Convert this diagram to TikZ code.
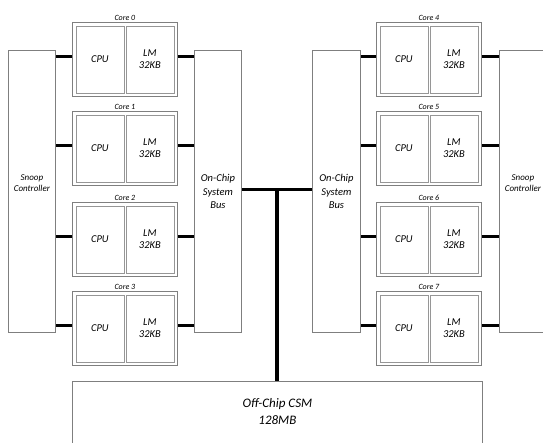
\documentclass[tikz,border=0pt]{standalone}
\usepackage{fontspec}
\setmainfont{Carlito}
\usepackage{xcolor}
\usepackage{tikz}
\usetikzlibrary{positioning, calc}

\definecolor{edgegray}{HTML}{7F7F7F}
\definecolor{cellgray}{HTML}{969696}

\tikzset{
  unit/.style={draw=edgegray, line width=0.8pt, fill=white, inner sep=0pt, align=center, font=\itshape},
  corebox/.style={draw=edgegray, line width=0.8pt, minimum width=105pt, minimum height=74pt, inner sep=0pt},
  cellbox/.style={draw=cellgray, line width=0.8pt, minimum width=48pt, minimum height=67pt, inner sep=0pt,
    align=center, font=\fontsize{10.5}{12.5}\selectfont\itshape},
  link/.style={line width=3.8pt, black}
}

\begin{document}
\begin{tikzpicture}[x=1pt, y=-1pt]
\useasboundingbox (0,0) rectangle (543,442);
\clip (0,0) rectangle (543,442);

% controllers and buses
\node[unit, minimum width=47pt, minimum height=282pt, anchor=north west, font=\fontsize{9}{11}\selectfont\itshape]
  (snoopL) at (8,50) {Snoop\\Controller\\[5pt]};
\node[unit, minimum width=47pt, minimum height=282pt, anchor=north west, font=\fontsize{10.5}{13.3}\selectfont\itshape]
  (busL) at (194,50) {On-Chip\\System\\Bus};
\node[unit, minimum width=48pt, minimum height=282pt, anchor=north west, font=\fontsize{10.5}{13.3}\selectfont\itshape]
  (busR) at (312,50) {On-Chip\\System\\Bus};
\node[unit, minimum width=47pt, minimum height=282pt, anchor=north west, font=\fontsize{9}{11}\selectfont\itshape]
  (snoopR) at (499,50) {Snoop\\Controller\\[5pt]};
\node[unit, minimum width=410pt, minimum height=80pt, anchor=north west, font=\fontsize{13}{17}\selectfont\itshape]
  (csm) at (72,381) {Off-Chip CSM\\128MB\\[3pt]};

% cores, left column 0-3 and right column 4-7
\foreach \i/\x/\y in {0/72/22, 1/72/111, 2/72/202, 3/72/291, 4/376/22, 5/376/111, 6/376/202, 7/376/291} {
  \node[corebox, anchor=north west] (core\i) at (\x,\y) {};
  \node[cellbox, anchor=north west] (cpu\i) at ($(core\i.north west)+(3.5,3.5)$) {CPU};
  \node[cellbox, anchor=north east] (lm\i) at ($(core\i.north east)+(-3.5,3.5)$) {LM\\32KB};
  \node[above=1pt of core\i, inner sep=0pt, font=\fontsize{8}{9}\selectfont\itshape] (name\i) {Core \i};
  \coordinate (inL\i) at ($(core\i.west)+(0,-3)$);
  \coordinate (inR\i) at ($(core\i.east)+(0,-3)$);
}

% core links
\foreach \i in {0,...,3} {
  \draw[link] (inL\i) -- (inL\i -| snoopL.east);
  \draw[link] (inR\i) -- (inR\i -| busL.west);
}
\foreach \i in {4,...,7} {
  \draw[link] (inL\i) -- (inL\i -| busR.east);
  \draw[link] (inR\i) -- (inR\i -| snoopR.west);
}

% bus to memory
\coordinate (tap) at ($(busL.east)!0.5!(busR.west)+(0,-2)$);
\draw[link] (tap -| busL.east) -- (tap -| busR.west);
\draw[link] (tap) -- (tap |- csm.north);
\end{tikzpicture}
\end{document}
